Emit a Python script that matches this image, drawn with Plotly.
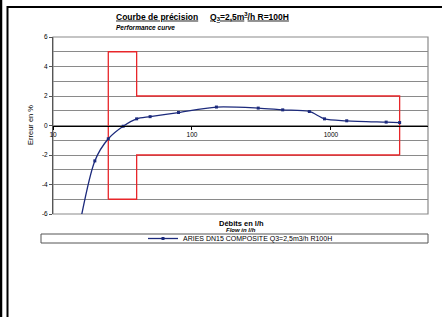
import plotly.graph_objects as go

# Data
flow_lh = [15, 20, 25, 32, 40, 50, 80, 150, 300, 450, 700, 900, 1300, 2500, 3125]
error_pct = [-7.5, -2.4, -0.9, -0.05, 0.45, 0.6, 0.88, 1.25, 1.18, 1.06, 0.95, 0.45, 0.32, 0.23, 0.2]

# Tolerance envelope (MPE)
env_upper_x = [25, 25, 40, 40, 3125, 3125]
env_upper_y = [-5, 5, 5, 2, 2, -2]
env_lower_x = [25, 25, 40, 40, 3125]
env_lower_y = [-5, -5, -5, -2, -2]

y_tick_vals = [6, 4, 2, 0, -2, -4, -6]
y_tick_text = ["6", "4", "2", "0", "-2", "-4", "-6"]
x_tick_vals = [10, 100, 1000]
x_tick_text = ["10", "100", "1000"]

L, R, T, B = 53, 14, 37, 103
W, H = 442, 317
PW = W - L - R
PH = H - T - B


def px(x):
    return (x - L) / PW


def py(y):
    return (H - B - y) / PH


FONT = "Liberation Sans, Arial, sans-serif"
RED = "#e8262a"
NAVY = "#1c2a7c"

fig = go.Figure()
fig.add_trace(go.Scatter(x=env_upper_x, y=env_upper_y, mode="lines",
                         line=dict(color=RED, width=1.3), showlegend=False, hoverinfo="skip"))
fig.add_trace(go.Scatter(x=env_lower_x, y=env_lower_y, mode="lines",
                         line=dict(color=RED, width=1.3), showlegend=False, hoverinfo="skip"))
fig.add_trace(go.Scatter(x=flow_lh, y=error_pct, mode="lines+markers",
                         name="ARIES DN15 COMPOSITE Q3=2,5m3/h R100H",
                         line=dict(color=NAVY, width=1.3, shape="spline", smoothing=0.8),
                         marker=dict(color=NAVY, size=3, symbol="square"),
                         cliponaxis=True))

fig.update_layout(
    width=W, height=H,
    margin=dict(l=L, r=R, t=T, b=B, pad=0),
    paper_bgcolor="white", plot_bgcolor="white",
    font=dict(family=FONT, color="black", size=7),
    showlegend=True,
    legend=dict(orientation="h", x=0.5, xanchor="center", y=py(238.5), yanchor="middle",
                bgcolor="rgba(0,0,0,0)", font=dict(size=7, family=FONT),
                itemwidth=30, tracegroupgap=0),
    xaxis=dict(type="log", range=[1, 3.699], tickvals=x_tick_vals, ticktext=x_tick_text,
               showgrid=False, zeroline=False, anchor="free", position=0.5,
               showline=True, linecolor="black", linewidth=1.3,
               ticks="outside", ticklen=3, tickcolor="black",
               tickfont=dict(size=6.5, family=FONT)),
    yaxis=dict(range=[-6, 6], tickvals=y_tick_vals, ticktext=y_tick_text,
               showgrid=True, gridcolor="#8a8a8a", gridwidth=1.2,
               minor=dict(tick0=0, dtick=1, showgrid=True, gridcolor="#8a8a8a",
                          gridwidth=1.2, ticks=""),
               zeroline=False, showline=True, linecolor="#555555", linewidth=1,
               ticks="outside", ticklen=3, tickcolor="#555555",
               tickfont=dict(size=6.5, family=FONT)),
)

shapes = [
    # plot area border
    dict(type="rect", xref="paper", yref="paper", x0=0, x1=1, y0=0, y1=1,
         line=dict(color="#8a8a8a", width=1.2), layer="below"),
    # legend box
    dict(type="rect", xref="paper", yref="paper", x0=px(41), x1=px(428), y0=py(243), y1=py(234),
         line=dict(color="#555555", width=1)),
    # outer frame lines
    dict(type="line", xref="paper", yref="paper", x0=px(1), x1=px(1), y0=py(0), y1=py(317),
         line=dict(color="black", width=2.5)),
    dict(type="line", xref="paper", yref="paper", x0=px(7.5), x1=px(7.5), y0=py(6), y1=py(317),
         line=dict(color="black", width=2)),
    dict(type="line", xref="paper", yref="paper", x0=px(7), x1=px(442), y0=py(7), y1=py(7),
         line=dict(color="black", width=2)),
]
fig.update_layout(shapes=shapes)

annotations = [
    dict(text="<b><u>Courbe de précision</u></b>     <b><u>Q<sub>3</sub>=2,5m<sup>3</sup>/h R=100H</u></b>",
         x=px(114), y=py(17), xanchor="left", yanchor="middle", font=dict(size=8.5)),
    dict(text="<b><i>Performance curve</i></b>",
         x=px(114), y=py(28), xanchor="left", yanchor="middle", font=dict(size=6.5)),
    dict(text="Erreur en %", textangle=-90,
         x=px(30), y=py(125), xanchor="center", yanchor="middle", font=dict(size=7.5)),
    dict(text="<b>Débits en l/h</b>",
         x=px(241), y=py(223), xanchor="center", yanchor="middle", font=dict(size=7.5)),
    dict(text="<b><i>Flow in l/h</i></b>",
         x=px(241), y=py(230), xanchor="center", yanchor="middle", font=dict(size=6)),
]
for a in annotations:
    a.update(xref="paper", yref="paper", showarrow=False)
fig.update_layout(annotations=annotations)

fig.write_html("out.html", config={"displayModeBar": False},
               post_script="document.body.style.margin='0px';")
